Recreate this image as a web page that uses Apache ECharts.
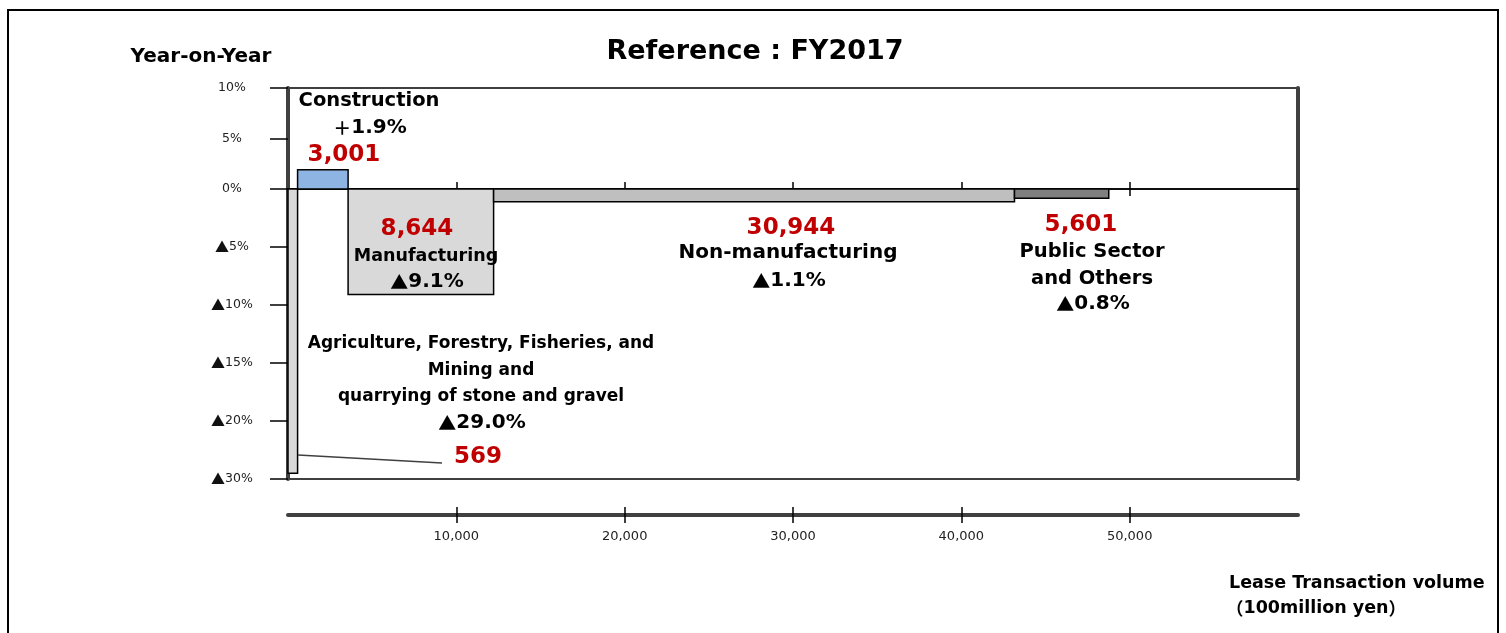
<!DOCTYPE html>
<html>
<head>
<meta charset="utf-8">
<title>Reference : FY2017</title>
<script src="https://cdn.jsdelivr.net/npm/echarts@6/dist/echarts.min.js"></script>
<style>
  html, body { margin: 0; padding: 0; background: #fff; }
  #main { width: 1506px; height: 633px; }
</style>
</head>
<body>
<div id="main"></div>
<script>
// data
const categories = ['Agriculture, Forestry, Fisheries, and Mining and quarrying of stone and gravel',
  'Construction', 'Manufacturing', 'Non-manufacturing', 'Public Sector and Others']
const volumes = [569, 3001, 8644, 30944, 5601]     // 100 million yen
const yoyRates = [-29.0, 1.9, -9.1, -1.1, -0.8]    // %
const xTicks = [10000, 20000, 30000, 40000, 50000]
const yTicks = [10, 5, 0, -5, -10, -15, -20, -30]

const barColors = ['#d9d9d9', '#8db4e2', '#d9d9d9', '#bfbfbf', '#7f7f7f']
const FONT = '"DejaVu Sans", Verdana, sans-serif'
const CJK = '"Noto Sans CJK JP", sans-serif'

// the original axis is drawn unevenly: positive side is a bit squeezed,
// and below -20% there is a break (the last step covers 10 points)
const POS_SCALE = 0.87
function toAxis (v) {
  if (v >= 0) return v * POS_SCALE
  if (v < -20) return -20 + (v + 20) / 2
  return v
}
const yTickPos = yTicks.map(toAxis)

// ▲ / ＋ are taken from the japanese font (full width, like the original)
function rateText (v) {
  return v < 0 ? '{t|▲}' + Math.abs(v).toFixed(1) + '%' : '{t|＋}' + v.toFixed(1) + '%'
}
function volText (v) {
  return v.toLocaleString('en-US')
}

// cumulative left/right edge of every bar
const barData = []
let acc = 0
volumes.forEach((v, i) => {
  barData.push([acc, acc + v, toAxis(yoyRates[i]), i])
  acc += v
})

// where each annotation sits (pixels), name lines / rate / volume
const annot = [
  { name: ['Agriculture, Forestry, Fisheries, and', 'Mining and', 'quarrying of stone and gravel'], fs: 17,
    nx: 481, ny: 344, rx: 482, ry: 423, vx: 478, vy: 457 },
  { name: ['Construction'], fs: 19.5, nx: 369, ny: 101, rx: 370, ry: 128, vx: 344, vy: 155 },
  { name: ['Manufacturing'], fs: 17.5, nx: 426, ny: 256, rx: 427, ry: 282, vx: 417, vy: 229 },
  { name: ['Non-manufacturing'], fs: 20, nx: 788, ny: 253, rx: 789, ry: 281, vx: 791, vy: 228 },
  { name: ['Public Sector', 'and Others'], fs: 19.5, nx: 1092, ny: 252, rx: 1093, ry: 304, vx: 1081, vy: 225 }
]

function txt (text, x, y, size, color, align, rich) {
  return {
    type: 'text',
    z: 100,
    x: x,
    y: y,
    style: {
      text: text,
      fill: color || '#000',
      fontFamily: FONT,
      fontWeight: 'bold',
      fontSize: size,
      align: align || 'center',
      verticalAlign: 'middle',
      rich: rich
    }
  }
}

const graphics = [
  // outer frame
  { type: 'rect', z: 100, shape: { x: 8, y: 10, width: 1490, height: 700 }, style: { fill: 'transparent', stroke: '#000', lineWidth: 2 } },
  txt('Reference : FY2017', 755, 52, 27),
  txt('Year-on-Year', 201, 57, 20),
  txt('Lease Transaction volume', 1229, 583, 17.5, '#000', 'left'),
  txt('{p|（}100million yen{p|）}', 1226, 608, 17.5, '#000', 'left',
    { p: { fontFamily: CJK, fontWeight: 'bold', fontSize: 17.5, fill: '#000' } }),
  // leader line to the thin agriculture bar
  { type: 'line', z: 100, shape: { x1: 298, y1: 455, x2: 442, y2: 463 }, style: { stroke: '#404040', lineWidth: 1.5 } }
]
annot.forEach((a, i) => {
  a.name.forEach((line, k) => {
    graphics.push(txt(line, a.nx, a.ny + k * 26.5, a.fs))
  })
  graphics.push(txt(rateText(yoyRates[i]), a.rx, a.ry, 20, '#000', 'center',
    { t: { fontFamily: CJK, fontWeight: 'bold', fontSize: 18, fill: '#000' } }))
  graphics.push(txt(volText(volumes[i]), a.vx, a.vy, 23, '#c00000'))
})

const chart = echarts.init(document.getElementById('main'), null, { renderer: 'canvas' })

const xBase = {
  type: 'value',
  min: 0,
  max: 60000,
  splitLine: { show: false },
  axisLabel: { show: false }
}

chart.setOption({
  animation: false,
  textStyle: { fontFamily: FONT },
  grid: {
    left: 288,
    right: 208,
    top: 88,
    bottom: 154,
    show: true,
    borderColor: '#000',
    borderWidth: 1.5
  },
  xAxis: [
    // zero line with ticks crossing it
    Object.assign({}, xBase, {
      position: 'bottom',
      axisLine: { onZero: true, lineStyle: { color: '#000', width: 1.5 } },
      axisTick: { inside: true, length: 7, customValues: xTicks, lineStyle: { color: '#000', width: 1.5 } }
    }),
    Object.assign({}, xBase, {
      position: 'top',
      axisLine: { onZero: true, lineStyle: { color: '#000', width: 1.5 } },
      axisTick: { inside: true, length: 7, customValues: xTicks, lineStyle: { color: '#000', width: 1.5 } }
    }),
    // separate thick axis below the plot
    Object.assign({}, xBase, {
      position: 'bottom',
      offset: 36,
      axisLine: { onZero: false, lineStyle: { color: '#404040', width: 4 } },
      axisTick: { inside: false, length: 8, customValues: xTicks, lineStyle: { color: '#000', width: 1.5 } },
      axisLabel: {
        show: true,
        customValues: xTicks,
        formatter: v => volText(v),
        margin: 15,
        fontSize: 13,
        color: '#222'
      }
    }),
    Object.assign({}, xBase, {
      position: 'bottom',
      offset: 36,
      axisLine: { show: false, onZero: false },
      axisTick: { inside: true, length: 8, customValues: xTicks, lineStyle: { color: '#000', width: 1.5 } }
    })
  ],
  yAxis: [
    {
      type: 'value',
      position: 'left',
      min: toAxis(-30),
      max: toAxis(10),
      splitLine: { show: false },
      axisLine: { show: true, onZero: false, lineStyle: { color: '#404040', width: 4 } },
      axisTick: { show: true, length: 18, customValues: yTickPos, lineStyle: { color: '#000', width: 1.5 } },
      axisLabel: {
        customValues: yTickPos,
        align: 'center',
        margin: 56,
        fontSize: 12.5,
        color: '#222',
        rich: { t: { fontFamily: CJK, fontSize: 14, color: '#111' } },
        formatter: function (value) {
          const i = yTickPos.findIndex(p => Math.abs(p - value) < 1e-6)
          const v = i < 0 ? value : yTicks[i]
          return v < 0 ? '{t|▲}' + Math.abs(v) + '%' : v + '%'
        }
      }
    },
    {
      type: 'value',
      position: 'right',
      min: toAxis(-30),
      max: toAxis(10),
      splitLine: { show: false },
      axisLine: { show: true, onZero: false, lineStyle: { color: '#404040', width: 4 } },
      axisTick: { show: false },
      axisLabel: { show: false }
    }
  ],
  series: [
    {
      name: 'Lease',
      type: 'custom',
      xAxisIndex: 0,
      yAxisIndex: 0,
      encode: { x: [0, 1], y: 2 },
      data: barData,
      renderItem: function (params, api) {
        const p0 = api.coord([api.value(0), 0])
        const p1 = api.coord([api.value(1), api.value(2)])
        return {
          type: 'rect',
          shape: {
            x: p0[0],
            y: Math.min(p0[1], p1[1]),
            width: p1[0] - p0[0],
            height: Math.abs(p1[1] - p0[1])
          },
          style: {
            fill: barColors[api.value(3)],
            stroke: '#000',
            lineWidth: 1.5
          }
        }
      }
    }
  ],
  graphic: graphics
})

window.onresize = function () {
  chart.resize()
}
</script>
</body>
</html>
